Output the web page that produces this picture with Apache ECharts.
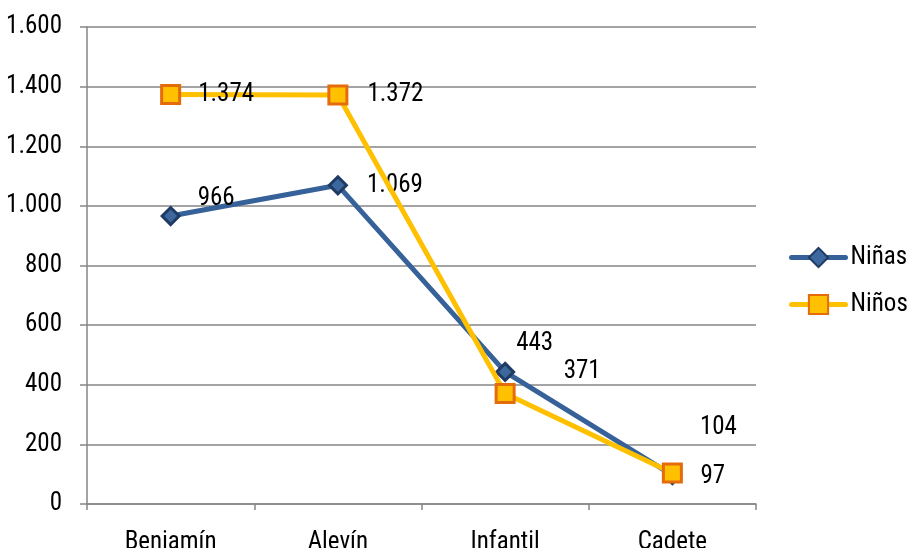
<!DOCTYPE html>
<html>
<head>
<meta charset="utf-8">
<script src="https://cdn.jsdelivr.net/npm/echarts@6/dist/echarts.min.js"></script>
<style>
  html, body { margin: 0; padding: 0; background: #fff; }
  #chart { width: 907px; height: 548px; }
</style>
</head>
<body>
<div id="chart"></div>
<script>
// Categorías por edad
const categorias = ['Benjamín', 'Alevín', 'Infantil', 'Cadete'];
// Número de participantes por categoría
const ninas = [966, 1069, 443, 97];
const ninos = [1374, 1372, 371, 104];
// Eje vertical
const yMin = 0, yMax = 1600, yPaso = 200;

const FONT = "'Roboto Condensed', 'Liberation Sans', sans-serif";
const FS = 25;

// Formato con punto como separador de miles
function miles(v) {
  return String(Math.round(v)).replace(/\B(?=(\d{3})+(?!\d))/g, '.');
}

// Desplazamientos de las etiquetas de cada punto
const offNinas = [[0, -17], [2, 0], [-16, -28], [1, 2]];
const offNinos = [[0, 0], [2, 0], [31, -22], [0, -45]];

function conEtiquetas(valores, offs) {
  return valores.map((v, i) => ({
    value: v,
    label: { offset: offs[i] }
  }));
}

const etiqueta = {
  show: true, position: 'right', distance: 17,
  fontFamily: FONT, fontSize: FS, color: '#000',
  formatter: p => miles(p.value)
};

const chart = echarts.init(document.getElementById('chart'));
chart.setOption({
  animation: false,
  textStyle: { fontFamily: FONT },
  grid: {
    left: 87, right: 151, top: 27, bottom: 44,
    containLabel: false, outerBoundsMode: 'none'
  },
  legend: {
    orient: 'vertical',
    left: 789,
    top: 245,
    padding: 0,
    itemWidth: 54,
    itemHeight: 24,
    itemGap: 22,
    lineStyle: { width: 5, cap: 'round' },
    textStyle: { fontFamily: FONT, fontSize: FS, color: '#000' },
    data: ['Niñas', 'Niños']
  },
  xAxis: {
    type: 'category',
    data: categorias,
    boundaryGap: true,
    axisLine: { lineStyle: { color: '#868686', width: 1.5 } },
    axisTick: { show: true, length: 6, lineStyle: { color: '#868686', width: 1.5 } },
    axisLabel: { fontFamily: FONT, fontSize: FS, color: '#000', margin: 26 }
  },
  yAxis: {
    type: 'value',
    min: yMin, max: yMax, interval: yPaso,
    axisLine: { show: true, lineStyle: { color: '#868686', width: 1.5 } },
    axisTick: { show: true, length: 7, lineStyle: { color: '#868686', width: 1.5 } },
    axisLabel: { fontFamily: FONT, fontSize: FS, color: '#000', margin: 25, formatter: miles },
    splitLine: { lineStyle: { color: '#868686', width: 1.5 } }
  },
  series: [
    {
      name: 'Niñas',
      type: 'line',
      data: conEtiquetas(ninas, offNinas),
      symbol: 'diamond',
      symbolSize: 17,
      lineStyle: { color: '#366199', width: 5 },
      itemStyle: { color: '#3C689E', borderColor: '#1F3A63', borderWidth: 3 },
      label: etiqueta,
      z: 2
    },
    {
      name: 'Niños',
      type: 'line',
      data: conEtiquetas(ninos, offNinos),
      symbol: 'rect',
      symbolSize: 18,
      lineStyle: { color: '#FFC000', width: 5 },
      itemStyle: { color: '#FFC000', borderColor: '#E46C0A', borderWidth: 3 },
      label: etiqueta,
      z: 3
    }
  ]
});
</script>
</body>
</html>
